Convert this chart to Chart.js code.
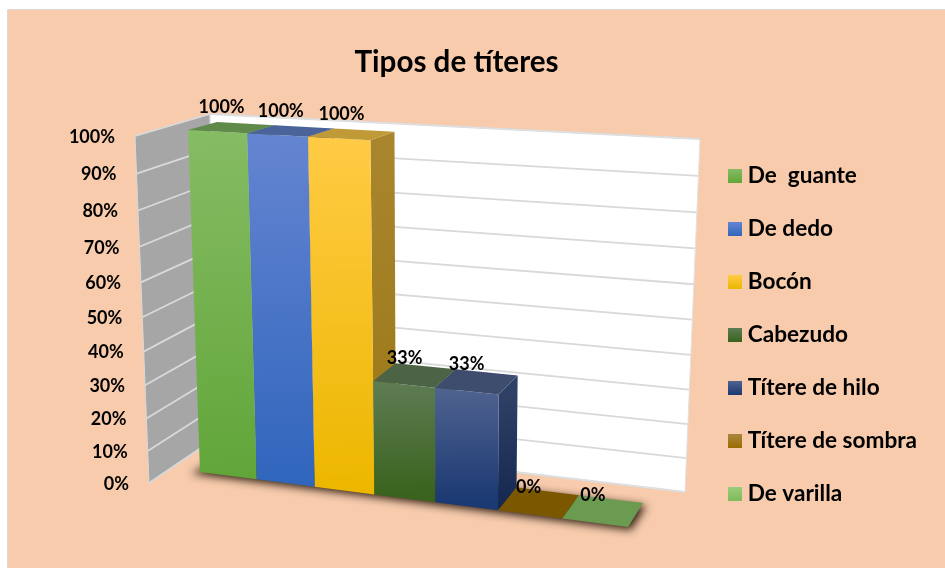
<!DOCTYPE html>
<html><head><meta charset="utf-8">
<style>html,body{margin:0;padding:0;background:#fff}canvas{display:block}</style>
<script src="https://cdn.jsdelivr.net/npm/chart.js@4/dist/chart.umd.min.js"></script>
</head><body><canvas id="c" width="945" height="568"></canvas>
<script>
const categories = ['Tipos de títeres'];
const seriesNames = ['De  guante','De dedo','Bocón','Cabezudo','Títere de hilo','Títere de sombra','De varilla'];
const seriesValues = [100,100,100,33,33,0,0];
const tickStep = 10;
const frontTop = ['#86BC64','#6585D1','#FFCB45','#5F7C54','#506390','#A98540','#9BCB7C'];
const frontBottom = ['#62A63A','#3166BD','#EDB700','#3A631D','#1B3972','#9C6D00','#7FBB58'];
const topColors = ['#5F8A4A','#4A6399','#C09A37','#4C6345','#3E4C6E','#7B5800','#6B9B50'];
const sideTop = ['#4F7A36','#3E5C96','#A9862E','#46603A','#2F4066','#6B4E00','#5F8A46'];
const sideBottom = ['#3E6A28','#2A4C8A','#9A7615','#2F4A18','#14274F','#6B4E00','#5F8A46'];

// view geometry: unit square -> picture (bottom-left, bottom-right, top-right, top-left)
const frontQuad = [[200,472],[628,527],[637,155],[188,130]];
const backQuad  = [[225,452],[643,503],[652,146],[217,122]];
const wallQuad  = [[217,437],[685,492],[700,139],[210,114]];
const sideQuad  = [[149,483],[217,437],[210,114],[135,136]];

function quadMap(q){
  const [[x0,y0],[x1,y1],[x2,y2],[x3,y3]] = q;
  const dx1=x1-x2,dx2=x3-x2,sx=x0-x1+x2-x3,dy1=y1-y2,dy2=y3-y2,sy=y0-y1+y2-y3;
  const det=dx1*dy2-dx2*dy1, g=(sx*dy2-dx2*sy)/det, h=(dx1*sy-sx*dy1)/det;
  const a=x1-x0+g*x1,b=x3-x0+h*x3,d=y1-y0+g*y1,e=y3-y0+h*y3;
  return (u,v)=>{const w=g*u+h*v+1;return [(a*u+b*v+x0)/w,(d*u+e*v+y0)/w];};
}
const F=quadMap(frontQuad),B=quadMap(backQuad),W=quadMap(wallQuad),S=quadMap(sideQuad);
const P3=(u,v,w)=>{const f=F(u,v),b=B(u,v);return [f[0]+(b[0]-f[0])*w,f[1]+(b[1]-f[1])*w];};
function poly(ctx,pts){ctx.beginPath();pts.forEach((p,i)=>i?ctx.lineTo(p[0],p[1]):ctx.moveTo(p[0],p[1]));ctx.closePath();}
function grad(ctx,a,b,c1,c2){const g=ctx.createLinearGradient(a[0],a[1],b[0],b[1]);g.addColorStop(0,c1);g.addColorStop(1,c2);return g;}
function swatch(i){
  const cv=document.createElement('canvas');cv.width=14;cv.height=14;
  const x=cv.getContext('2d'),g=x.createLinearGradient(0,0,0,14);
  g.addColorStop(0,frontTop[i]);g.addColorStop(1,frontBottom[i]);x.fillStyle=g;x.fillRect(0,0,14,14);return cv;
}

const scene={id:'scene',
  beforeDraw(chart){
    const c=chart.ctx;c.save();
    c.fillStyle='#fff';c.fillRect(0,0,945,568);
    c.fillStyle='#F7CBAC';c.fillRect(8,9,937,559);
    c.strokeStyle='#D9D9D9';c.lineWidth=1;c.beginPath();c.moveTo(7.5,568);c.lineTo(7.5,9.5);c.lineTo(945,9.5);c.stroke();
    c.restore();
  },
  beforeDatasetsDraw(chart){
    const c=chart.ctx,ya=chart.scales.y,area=chart.chartArea;
    const vOf=val=>(area.bottom-ya.getPixelForValue(val))/(area.bottom-area.top);
    c.save();
    // walls
    poly(c,[S(0,0),S(1,0),S(1,1),S(0,1)]);c.fillStyle='#A6A6A6';c.fill();
    poly(c,[W(0,0),W(1,0),W(1,1),W(0,1)]);c.fillStyle='#FFFFFF';c.fill();
    ya.ticks.forEach(t=>{
      const v=vOf(t.value);
      c.strokeStyle='#D9D9D9';c.lineWidth=1.8;
      c.beginPath();let a=S(0,v),b=S(1,v);c.moveTo(a[0],a[1]);c.lineTo(b[0],b[1]);c.stroke();
      c.beginPath();a=W(0,v);b=W(1,v);c.moveTo(a[0],a[1]);c.lineTo(b[0],b[1]);c.stroke();
    });
    poly(c,[S(0,0),S(1,0),S(1,1),S(0,1)]);c.strokeStyle='#D9D9D9';c.lineWidth=1;c.stroke();
    poly(c,[W(0,0),W(1,0),W(1,1),W(0,1)]);c.strokeStyle='#E2E2E2';c.stroke();
    // tick labels
    c.font='bold 18px Lato';c.fillStyle='#000';c.textAlign='right';c.textBaseline='middle';
    ya.ticks.forEach(t=>{const p=S(0,vOf(t.value));c.fillText(t.label,p[0]-20,p[1]+1);});
    // floor shadow: the shape itself is kept off the canvas, only its blur lands here
    c.save();c.shadowColor='rgba(25,12,0,0.9)';c.shadowBlur=9;c.shadowOffsetX=2003;c.shadowOffsetY=3;
    c.translate(-2000,0);
    poly(c,[P3(-0.03,0,0),P3(1,0,0),P3(1,0,1),P3(0,0,1)]);c.fillStyle='#000';c.fill();c.restore();
    // bars, left to right, from the chart's own bar elements
    chart.data.datasets.forEach((ds,i)=>{
      const el=chart.getDatasetMeta(i).data[0];
      const u0=(el.x-el.width/2-area.left)/area.width,u1=(el.x+el.width/2-area.left)/area.width;
      const v0=(area.bottom-el.base)/area.height,v1=(area.bottom-el.y)/area.height;
      if(v1>v0+1e-6){
        poly(c,[P3(u1,v0,0),P3(u1,v0,1),P3(u1,v1,1),P3(u1,v1,0)]);
        c.fillStyle=grad(c,P3(u1,v1,0),P3(u1,v0,0),sideTop[i],sideBottom[i]);c.fill();
        poly(c,[P3(u0,v0,0),P3(u1,v0,0),P3(u1,v1,0),P3(u0,v1,0)]);
        c.fillStyle=grad(c,P3(u0,v1,0),P3(u0,v0,0),frontTop[i],frontBottom[i]);c.fill();
      }
      poly(c,[P3(u0,v1,0),P3(u1,v1,0),P3(u1,v1,1),P3(u0,v1,1)]);c.fillStyle=topColors[i];c.fill();
    });
    // value labels
    c.font='bold 18px Lato';c.fillStyle='#000';c.textAlign='center';c.textBaseline='middle';
    chart.data.datasets.forEach((ds,i)=>{
      const el=chart.getDatasetMeta(i).data[0];
      const v=(area.bottom-el.y)/area.height;
      const p=P3((el.x-area.left)/area.width,v,0.5);
      c.fillText(ds.data[0]+'%',p[0]-10,p[1]-16-4*v);
    });
    c.restore();
    return false;
  }
};

new Chart(document.getElementById('c'),{
  type:'bar',
  data:{labels:categories,datasets:seriesNames.map((n,i)=>({label:n,data:[seriesValues[i]],backgroundColor:frontBottom[i]}))},
  options:{
    responsive:false,animation:false,
    layout:{padding:{left:209,right:18,top:0,bottom:0}},
    datasets:{bar:{barPercentage:1,categoryPercentage:1}},
    scales:{
      x:{display:false},
      y:{display:false,min:0,max:100,ticks:{stepSize:tickStep,callback:v=>v+'%'}}
    },
    plugins:{
      tooltip:{enabled:false},
      title:{display:true,text:'Tipos de títeres',fullSize:false,color:'#000',
        font:{family:'Lato',size:29.6,weight:'bold',lineHeight:1.2},padding:{top:45,bottom:21.5}},
      legend:{position:'right',fullSize:false,
        labels:{usePointStyle:true,pointStyleWidth:2,padding:30.4,color:'#000',
          font:{family:'Lato',size:22.6,weight:'bold'},
          generateLabels(chart){
            return Chart.defaults.plugins.legend.labels.generateLabels(chart).map((it,i)=>Object.assign(it,{pointStyle:swatch(i)}));
          }}}
    }
  },
  plugins:[scene]
});
</script></body></html>
